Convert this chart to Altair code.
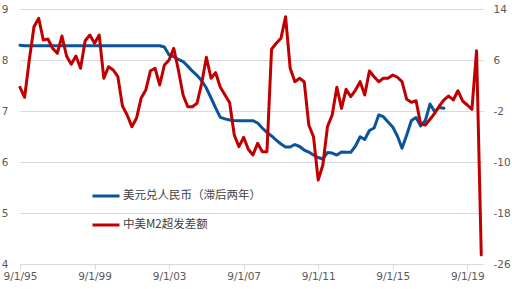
import altair as alt
import pandas as pd

# Quarterly observations starting Sep 1995
dates = [d.strftime("%Y-%m-%dT00:00:00") for d in pd.date_range("1995-09-01", periods=100, freq="3MS")]

series_names = ["美元兑人民币（滞后两年）", "中美M2超发差额"]
series_colors = ["#0B539B", "#C00000"]

# USD/CNY (lagged two years), left axis
blue = [8.29, 8.28, 8.28, 8.28, 8.28, 8.28, 8.28, 8.28, 8.28, 8.28,
        8.28, 8.28, 8.28, 8.28, 8.28, 8.28, 8.28, 8.28, 8.28, 8.28,
        8.28, 8.28, 8.28, 8.28, 8.28, 8.28, 8.28, 8.28, 8.28, 8.28,
        8.28, 8.255, 8.10, 8.065, 8.01, 7.97, 7.88, 7.78, 7.70, 7.59,
        7.45, 7.255, 7.06, 6.875, 6.845, 6.825, 6.815, 6.81, 6.81, 6.81,
        6.81, 6.765, 6.667, 6.578, 6.51, 6.43, 6.353, 6.294, 6.294, 6.343,
        6.304, 6.235, 6.196, 6.137, 6.088, 6.059, 6.186, 6.176, 6.137, 6.196,
        6.19, 6.19, 6.314, 6.496, 6.441, 6.618, 6.667, 6.922, 6.888, 6.784,
        6.686, 6.51, 6.269, 6.529, 6.814, 6.873, 6.706, 6.814, 7.137, 6.986,
        7.069, 7.053]

# China-US M2 excess growth gap, right axis
red = [1.72, 0.15, 6.0, 11.22, 12.54, 9.14, 9.29, 7.84, 7.05, 9.76,
       6.63, 5.33, 6.63, 4.70, 9.03, 9.92, 8.62, 9.92, 3.13, 4.95,
       4.43, 3.38, -1.22, -2.63, -4.46, -3.15, -0.01, 1.29, 4.32, 4.70,
       2.08, 5.22, 6.0, 7.84, 4.43, 0.51, -1.33, -1.33, -0.79, 2.35,
       6.42, 3.13, 4.01, 1.72, 0.51, -0.70, -5.76, -7.60, -6.13, -8.01,
       -8.90, -7.07, -8.38, -8.38, 7.68, 8.62, 9.40, 12.79, 4.70, 2.60,
       3.13, 2.60, -4.20, -6.03, -12.82, -10.47, -4.46, -2.63, 1.72, -1.58,
       1.40, 0.24, 1.29, 2.60, 0.51, 4.27, 3.38, 2.60, 3.13, 3.13,
       3.65, 3.29, 2.60, -0.16, -0.64, -0.38, -4.04, -4.20, -3.30, -2.36,
       -1.22, -0.27, 0.35, -0.27, 1.18, -0.43, -1.06, -1.73, 7.46, -24.59]

left_ticks = [4, 5, 6, 7, 8, 9]
right_ticks = [-26, -18, -10, -2, 6, 14]
x_tick_years = [1995, 1999, 2003, 2007, 2011, 2015, 2019]

df_blue = pd.DataFrame({"date": dates[:len(blue)], "value": blue, "series": series_names[0]})
df_red = pd.DataFrame({"date": dates[:len(red)], "value": red, "series": series_names[1]})

label_color = "#595959"
grid_color = "#d9d9d9"
axis_font = "DejaVu Sans"

x_enc = alt.X(
    "date:T",
    scale=alt.Scale(
        domain=[alt.DateTime(year=1995, month=9, date=1), alt.DateTime(year=2020, month=7, date=5)],
        nice=False,
    ),
    axis=alt.Axis(
        values=[alt.DateTime(year=y, month=9, date=1) for y in x_tick_years],
        format="%-m/%-d/%y",
        title=None,
        grid=False,
        domainColor=grid_color,
        tickColor=grid_color,
        tickSize=5,
        labelPadding=2,
        labelFlush=False,
        labelFontSize=10.5,
        labelFont=axis_font,
        labelColor=label_color,
    ),
)

color_enc = alt.Color(
    "series:N",
    scale=alt.Scale(domain=series_names, range=series_colors),
    legend=alt.Legend(
        title=None,
        orient="none",
        legendX=71,
        legendY=172,
        symbolType="stroke",
        symbolSize=729,
        symbolStrokeWidth=3,
        labelFont="Noto Sans CJK SC",
        labelFontSize=11.5,
        labelColor="#404040",
        labelOffset=2,
        labelLimit=300,
        padding=0,
        rowPadding=8,
    ),
)

blue_line = alt.Chart(df_blue).mark_line(strokeWidth=3, strokeJoin="round", strokeCap="round").encode(
    x=x_enc,
    y=alt.Y(
        "value:Q",
        scale=alt.Scale(domain=[4, 9], nice=False, zero=False),
        axis=alt.Axis(
            orient="left",
            values=left_ticks,
            title=None,
            grid=True,
            gridColor=grid_color,
            domain=False,
            ticks=False,
            tickSize=0,
            labelPadding=12,
            labelFontSize=10.5,
            labelFont=axis_font,
            labelColor=label_color,
        ),
    ),
    color=color_enc,
)

red_line = alt.Chart(df_red).mark_line(strokeWidth=3, strokeJoin="round", strokeCap="round").encode(
    x=x_enc,
    y=alt.Y(
        "value:Q",
        scale=alt.Scale(domain=[-26, 14], nice=False, zero=False),
        axis=alt.Axis(
            orient="right",
            values=right_ticks,
            labelExpr="'' + datum.value",
            title=None,
            grid=False,
            domain=False,
            ticks=False,
            tickSize=0,
            labelPadding=10,
            labelFontSize=10.5,
            labelFont=axis_font,
            labelColor=label_color,
        ),
    ),
    color=color_enc,
)

chart = (
    alt.layer(blue_line, red_line)
    .resolve_scale(y="independent")
    .properties(
        width=463,
        height=255,
        padding={"left": 20, "top": 9, "right": 29, "bottom": 25},
        autosize="none",
    )
    .configure_view(strokeWidth=0)
)

chart.save("out.html", embed_options={"renderer": "svg", "actions": False})
